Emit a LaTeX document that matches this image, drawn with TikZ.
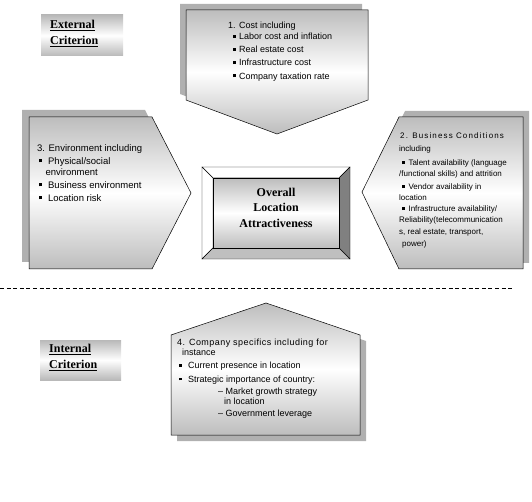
\documentclass[tikz,border=0pt]{standalone}
\usepackage{fontspec}
\setmainfont{Liberation Sans}
\newfontfamily\tms{Liberation Serif}
\usetikzlibrary{positioning}
\newcommand{\ft}[2]{\fontsize{#1}{#2}\selectfont}
\newcommand{\sqb}[1][3.2pt]{\rule[1.8pt]{2.8pt}{2.8pt}\hspace{#1}}

\begin{document}
\begin{tikzpicture}[
  x=1pt, y=-1pt,
  shadow/.style={fill=gray!62, draw=none},
  panel/.style={draw=black, line width=0.5pt, top color=gray!52, bottom color=gray!52, middle color=white},
  crit/.style={top color=gray!55, bottom color=gray!55, middle color=white, draw=none},
  txt/.style={anchor=north west, inner sep=0pt, align=left},
  title/.style={font=\tms\bfseries\ft{12}{16}, inner sep=0pt, align=left, anchor=north west},
]
  \useasboundingbox (0,0) rectangle (532,502);

  % ---------------- criterion labels
  \fill[crit] (41,15) rectangle (123,56);
  \node[title] (ext) at (50,20) {\underline{External}\\\underline{Criterion}};
  \fill[crit] (40,340) rectangle (121,380);
  \node[title] (int) at (49,344) {\underline{Internal}\\\underline{Criterion}};

  % ---------------- shadows
  \fill[shadow] (180,4) -- (362,4) -- (362,94) -- (271,128) -- (180,94) -- cycle;
  \fill[shadow] (22,110) -- (145,110) -- (184,186) -- (145,262) -- (22,262) -- cycle;
  \fill[shadow] (405,111) -- (529,111) -- (529,263) -- (405,263) -- (368,186) -- cycle;
  \fill[shadow] (177,341) -- (272,309) -- (366,341) -- (366,441) -- (177,441) -- cycle;

  % ---------------- the four criteria
  \draw[panel] (186,10) -- (368,10) -- (368,100) -- (277,134) -- (186,100) -- cycle;
  \draw[panel] (29,117) -- (152,117) -- (191,193) -- (152,269) -- (29,269) -- cycle;
  \draw[panel] (399,117) -- (523,117) -- (523,269) -- (399,269) -- (362,192) -- cycle;
  \draw[panel] (171,335) -- (266,303) -- (360,335) -- (360,435) -- (171,435) -- cycle;

  \node[txt, font=\ft{9}{11.2}] (cost) at (228,21.5)
    {1. Cost including\\
     \hspace*{5pt}\sqb Labor cost and inflation\\[2pt]
     \hspace*{5pt}\sqb Real estate cost\\[2pt]
     \hspace*{5pt}\sqb Infrastructure cost\\[2pt]
     \hspace*{5pt}\sqb Company taxation rate};

  \node[txt, font=\ft{9.5}{11}] (env) at (37,144)
    {3. Environment including\\[2pt]
     \hspace*{1.5pt}\sqb[4pt] Physical/social\\
     \hspace*{8.3pt}environment\\[2pt]
     \hspace*{1.5pt}\sqb[4pt] Business environment\\[2pt]
     \hspace*{1.5pt}\sqb[4pt] Location risk};

  \node[txt, font=\ft{8}{11}] (biz) at (399,133)
    {\hspace*{1pt}{\addfontfeature{LetterSpace=14}2. Business Conditions}\\[2pt]
     including\\[3pt]
     \hspace*{2.5pt}\sqb[1.8pt] Talent availability (language\\
     /functional skills) and attrition\\[2pt]
     \hspace*{2.5pt}\sqb[1.8pt] Vendor availability in\\
     location\\
     \hspace*{2.5pt}\sqb[1.8pt] Infrastructure availability/\\
     Reliability(telecommunication\\[1pt]
     s, real estate, transport,\\[1pt]
     \hspace*{3pt}power)};

  \node[txt, font=\ft{9}{10.5}] (comp) at (177,338.5)
    {{\addfontfeature{LetterSpace=5}4. Company specifics including for}\\
     \hspace*{5pt}instance\\[2.5pt]
     \hspace*{1.5pt}\sqb[4pt] Current presence in location\\[3pt]
     \hspace*{1.5pt}\sqb[4pt] Strategic importance of country:\\[1.5pt]
     \hspace*{41pt}-- Market growth strategy\\
     \hspace*{47pt}in location\\[1.5pt]
     \hspace*{41pt}-- Government leverage};

  % ---------------- overall attractiveness
  \draw[fill=white] (202,167) -- (350,167) -- (339,178) -- (213,178) -- cycle;
  \draw[fill=white] (202,167) -- (213,178) -- (213,248) -- (202,259) -- cycle;
  \draw[fill=gray] (350,167) -- (350,259) -- (339,248) -- (339,178) -- cycle;
  \draw[fill=gray!50] (202,259) -- (350,259) -- (339,248) -- (213,248) -- cycle;
  \draw[panel] (213,178) rectangle (339,248);
  \node[font=\tms\bfseries\ft{12}{15.5}, align=center, inner sep=0pt] (overall) at (276,207.5)
    {Overall\\Location\\Attractiveness};

  % ---------------- external / internal divide
  \coordinate (divl) at (0,288);
  \coordinate (divr) at (513,288);
  \draw[dash pattern=on 4pt off 2.6pt] (divl) -- (divr);
\end{tikzpicture}
\end{document}
